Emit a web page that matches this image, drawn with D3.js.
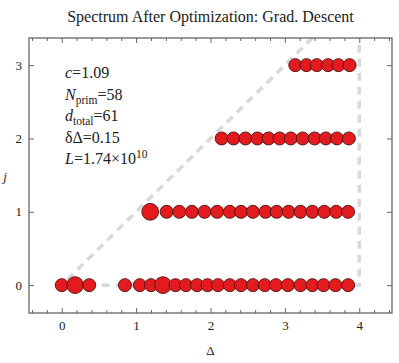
<!DOCTYPE html>
<html>
<head>
<meta charset="utf-8">
<script src="https://cdn.jsdelivr.net/npm/d3@7"></script>
<style>
  body { margin: 0; background: #fff; }
  svg text { font-family: "Liberation Serif", "DejaVu Serif", serif; fill: #222; }
</style>
</head>
<body>
<div id="chart"></div>
<script>
// Spectrum after optimization - points per spin j
const spins = [0, 1, 2, 3];
const deltasJ0 = [0.00, 0.18, 0.37, 0.85, 1.05, 1.20, 1.36, 1.53, 1.67, 1.82, 1.96, 2.10, 2.26, 2.41, 2.57, 2.73, 2.88, 3.04, 3.21, 3.37, 3.52, 3.68, 3.85];
const weightsJ0 = [1, 2, 1, 1, 1, 1, 2, 1, 1, 1, 1, 1, 1, 1, 1, 1, 1, 1, 1, 1, 1, 1, 1];
const deltasJ1 = [1.19, 1.41, 1.58, 1.75, 1.92, 2.09, 2.26, 2.41, 2.57, 2.74, 2.89, 3.05, 3.21, 3.37, 3.53, 3.69, 3.85];
const weightsJ1 = [2, 1, 1, 1, 1, 1, 1, 1, 1, 1, 1, 1, 1, 1, 1, 1, 1];
const deltasJ2 = [2.15, 2.31, 2.47, 2.63, 2.78, 2.93, 3.08, 3.24, 3.40, 3.55, 3.70, 3.86];
const weightsJ2 = [1, 1, 1, 1, 1, 1, 1, 1, 1, 1, 1, 1];
const deltasJ3 = [3.14, 3.29, 3.43, 3.58, 3.72, 3.87];
const weightsJ3 = [1, 1, 1, 1, 1, 1];

// bound: Delta = j, j = 0 line, Delta = 4 wall
const boundDelta = [3.37, 0, 4, 4];
const boundJ = [3.37, 0, 0, 3.37];

const xTicks = [0, 1, 2, 3, 4];
const yTicks = [0, 1, 2, 3];
const xDomain = [-0.44, 4.44];
const yDomain = [-0.38, 3.37];

const notes = [
    { sym: 'c', sub: '', val: '=1.09' },
    { sym: 'N', sub: 'prim', val: '=58' },
    { sym: 'd', sub: 'total', val: '=61' },
    { sym: 'δΔ', sub: '', val: '=0.15', roman: true },
    { sym: 'L', sub: '', val: '=1.74×10', sup: '10' }
];

function drawChart() {
    const width = 399, height = 363;
    const margin = { top: 38, right: 7, bottom: 50, left: 29 };
    const innerW = width - margin.left - margin.right;
    const innerH = height - margin.top - margin.bottom;

    const svg = d3.select('#chart').append('svg')
        .attr('width', width)
        .attr('height', height);

    const g = svg.append('g')
        .attr('transform', `translate(${margin.left},${margin.top})`);

    const x = d3.scaleLinear().domain(xDomain).range([0, innerW]);
    const y = d3.scaleLinear().domain(yDomain).range([innerH, 0]);

    // Title
    svg.append('text')
        .attr('x', margin.left + innerW / 2)
        .attr('y', 22)
        .attr('text-anchor', 'middle')
        .attr('font-size', '16px')
        .text('Spectrum After Optimization: Grad. Descent');

    // Bound (dashed grey)
    const boundPts = boundDelta.map((d, i) => [d, boundJ[i]]);
    g.append('path')
        .datum(boundPts)
        .attr('d', d3.line().x(d => x(d[0])).y(d => y(d[1])))
        .attr('fill', 'none')
        .attr('stroke', '#d9d9d9')
        .attr('stroke-width', 3.5)
        .attr('stroke-dasharray', '8,6');

    // Points
    const rows = [
        [deltasJ0, weightsJ0],
        [deltasJ1, weightsJ1],
        [deltasJ2, weightsJ2],
        [deltasJ3, weightsJ3]
    ];
    const r = d3.scaleSqrt().domain([1, 2]).range([6.5, 8.4]);
    const points = [];
    rows.forEach((row, j) => {
        row[0].forEach((d, i) => points.push({ j: spins[j], delta: d, w: row[1][i] }));
    });

    g.selectAll('.pt')
        .data(points)
        .enter()
        .append('circle')
        .attr('class', 'pt')
        .attr('cx', d => x(d.delta))
        .attr('cy', d => y(d.j))
        .attr('r', d => r(d.w))
        .attr('fill', '#e31b1f')
        .attr('stroke', '#4a1212')
        .attr('stroke-width', 0.9);

    // Axes with inward ticks
    const axisColor = '#666';
    const styleAxis = sel => {
        sel.select('.domain').remove();
        sel.selectAll('line').attr('stroke', axisColor);
        sel.selectAll('text').attr('font-size', '13px');
    };

    const minorX = x.ticks(25).filter(t => !xTicks.includes(t));

    g.append('g')
        .attr('transform', `translate(0,${innerH})`)
        .call(d3.axisBottom(x).tickValues(xTicks).tickSize(-5).tickPadding(8).tickFormat(d3.format('d')))
        .call(styleAxis);
    g.append('g')
        .attr('transform', `translate(0,${innerH})`)
        .call(d3.axisBottom(x).tickValues(minorX).tickSize(-3).tickFormat(''))
        .call(styleAxis);
    g.append('g')
        .call(d3.axisTop(x).tickValues(xTicks).tickSize(-5).tickFormat(''))
        .call(styleAxis);
    g.append('g')
        .call(d3.axisTop(x).tickValues(minorX).tickSize(-3).tickFormat(''))
        .call(styleAxis);
    g.append('g')
        .call(d3.axisLeft(y).tickValues(yTicks).tickSize(-5).tickPadding(7).tickFormat(d3.format('d')))
        .call(styleAxis);
    g.append('g')
        .attr('transform', `translate(${innerW},0)`)
        .call(d3.axisRight(y).tickValues(yTicks).tickSize(-5).tickFormat(''))
        .call(styleAxis);

    // Frame
    g.append('rect')
        .attr('width', innerW)
        .attr('height', innerH)
        .attr('fill', 'none')
        .attr('stroke', axisColor)
        .attr('stroke-width', 1.3);

    // Axis labels
    svg.append('text')
        .attr('x', margin.left + innerW / 2)
        .attr('y', 355)
        .attr('text-anchor', 'middle')
        .attr('font-size', '13px')
        .text('Δ');
    svg.append('text')
        .attr('x', 5)
        .attr('y', 181)
        .attr('text-anchor', 'middle')
        .attr('font-size', '13px')
        .attr('font-style', 'italic')
        .text('j');

    // Annotation block
    const noteG = svg.append('g').attr('transform', 'translate(65,0)');
    notes.forEach((n, i) => {
        const t = noteG.append('text')
            .attr('x', 0)
            .attr('y', 78 + i * 21.5)
            .attr('font-size', '16px');
        t.append('tspan')
            .attr('font-style', n.roman ? 'normal' : 'italic')
            .text(n.sym);
        if (n.sub) {
            t.append('tspan').attr('font-size', '11.5px').attr('dy', 4).text(n.sub);
            t.append('tspan').attr('dy', -4).text(n.val);
        } else {
            t.append('tspan').text(n.val);
        }
        if (n.sup) {
            t.append('tspan').attr('font-size', '11.5px').attr('dy', -6).text(n.sup);
        }
    });
}

drawChart();
</script>
</body>
</html>
